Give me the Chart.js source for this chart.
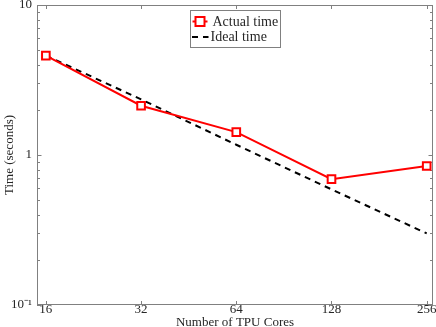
<!DOCTYPE html>
<html>
<head>
<meta charset="utf-8">
<script src="https://cdn.jsdelivr.net/npm/chart.js@4/dist/chart.umd.min.js"></script>
<style>
  html, body { margin: 0; padding: 0; background: #fff; }
  #wrap { width: 436px; height: 327px; }
</style>
</head>
<body>
<div id="wrap"><canvas id="c" width="436" height="327"></canvas></div>
<script>
// ---- data ----
const cores = [16, 32, 64, 128, 256];
const actualTime = [4.6, 2.13, 1.42, 0.69, 0.845];
const idealTime = [4.6, 2.35, 1.17, 0.59, 0.30];
const xTickValues = [16, 32, 64, 128, 256];
const yTickValues = [0.1, 1, 10];
const yTickLabels = ['10\u207B\u00B9', '1', '10'];
const seriesNames = ['Actual time', 'Ideal time'];
const xTitle = 'Number of TPU Cores';
const yTitle = 'Time (seconds)';

const FONT = 'Liberation Serif';
const TEXT = '#262626';
const AXIS = '#808080';

const zeroPad = () => ({ left: 0, top: 0, right: 0, bottom: 0 });

const boxPlugin = {
  id: 'boxTicks',
  beforeDatasetsDraw(chart) {
    const { ctx, chartArea: a, scales } = chart;
    const xs = scales.x, ys = scales.y;
    ctx.save();
    ctx.strokeStyle = AXIS;
    ctx.lineWidth = 1;
    ctx.strokeRect(Math.round(a.left) + 0.5, Math.round(a.top) + 0.5,
      Math.round(a.right - a.left) - 1, Math.round(a.bottom - a.top) - 1);
    ctx.beginPath();
    xTickValues.forEach(v => {
      const px = Math.round(xs.getPixelForValue(v)) + 0.5;
      ctx.moveTo(px, a.bottom); ctx.lineTo(px, a.bottom - 4);
      ctx.moveTo(px, a.top); ctx.lineTo(px, a.top + 4);
    });
    const decades = [0.1, 1];
    const yVals = [];
    decades.forEach(d => { for (let k = 1; k <= 9; k++) yVals.push(d * k); });
    yVals.push(10);
    yVals.forEach(v => {
      const major = yTickValues.some(t => Math.abs(t - v) < 1e-9);
      const len = major ? 4.5 : 3;
      const py = Math.round(ys.getPixelForValue(v)) + 0.5;
      ctx.moveTo(a.left, py); ctx.lineTo(a.left + len, py);
      ctx.moveTo(a.right, py); ctx.lineTo(a.right - len, py);
    });
    ctx.stroke();
    ctx.restore();
  },
  afterDraw(chart) {
    const { ctx, chartArea: a } = chart;
    ctx.save();
    const w = 90, h = 37;
    const lx = Math.round((a.left + a.right) / 2 - w / 2) + 0.5;
    const ly = Math.round(a.top + 5) + 0.5;
    ctx.fillStyle = '#fff';
    ctx.fillRect(lx, ly, w, h);
    ctx.strokeStyle = AXIS;
    ctx.lineWidth = 1;
    ctx.strokeRect(lx, ly, w, h);
    const r1 = ly + 11, r2 = ly + 26.5;
    ctx.strokeStyle = '#ff0000';
    ctx.lineWidth = 2;
    ctx.beginPath(); ctx.moveTo(lx + 2, r1); ctx.lineTo(lx + 17, r1); ctx.stroke();
    ctx.fillStyle = '#fff';
    ctx.fillRect(lx + 5, r1 - 4.5, 9, 9);
    ctx.strokeRect(lx + 5, r1 - 4.5, 9, 9);
    ctx.strokeStyle = '#000';
    ctx.setLineDash([6, 5]);
    ctx.beginPath(); ctx.moveTo(lx + 1.5, r2); ctx.lineTo(lx + 18, r2); ctx.stroke();
    ctx.setLineDash([]);
    ctx.fillStyle = TEXT;
    ctx.font = '14px "' + FONT + '"';
    ctx.textBaseline = 'middle';
    ctx.textAlign = 'left';
    ctx.fillText(seriesNames[0], lx + 22, r1 + 0.5);
    ctx.fillText(seriesNames[1], lx + 20, r2 + 0.5);
    ctx.restore();
  }
};

new Chart(document.getElementById('c'), {
  type: 'line',
  data: {
    datasets: [
      {
        label: seriesNames[0],
        data: cores.map((c, i) => ({ x: c, y: actualTime[i] })),
        borderColor: '#ff0000',
        borderWidth: 2,
        pointStyle: 'rect',
        pointRadius: 5.4,
        pointBorderWidth: 2,
        pointBackgroundColor: '#ffffff',
        pointBorderColor: '#ff0000',
        tension: 0
      },
      {
        label: seriesNames[1],
        data: cores.map((c, i) => ({ x: c, y: idealTime[i] })),
        borderColor: '#000000',
        borderWidth: 2,
        borderDash: [6, 5],
        pointRadius: 0,
        tension: 0
      }
    ]
  },
  options: {
    responsive: false,
    animation: false,
    layout: { autoPadding: false, padding: { top: 5, right: 3, left: 0, bottom: 0 } },
    plugins: { legend: { display: false }, tooltip: { enabled: false } },
    scales: {
      x: {
        type: 'logarithmic',
        min: 15,
        max: 268,
        grid: { display: false, drawTicks: false },
        border: { display: false },
        afterBuildTicks: s => { s.ticks = xTickValues.map(v => ({ value: v })); },
        afterFit: s => {
          s.height = 22; s.paddingLeft = 0; s.paddingRight = 0;
          s.getPadding = zeroPad;
        },
        ticks: {
          autoSkip: false,
          maxRotation: 0,
          padding: -3,
          color: TEXT,
          font: { family: FONT, size: 13 },
          callback: v => String(v)
        },
        title: {
          display: true,
          text: xTitle,
          color: TEXT,
          font: { family: FONT, size: 13 },
          padding: { top: 0, bottom: -3 }
        }
      },
      y: {
        type: 'logarithmic',
        min: 0.1,
        max: 10,
        grid: { display: false, drawTicks: false },
        border: { display: false },
        afterBuildTicks: s => { s.ticks = yTickValues.map(v => ({ value: v })); },
        afterFit: s => {
          s.width = 37; s.paddingTop = 0; s.paddingBottom = 0;
          s.getPadding = zeroPad;
        },
        ticks: {
          autoSkip: false,
          padding: 5,
          color: TEXT,
          font: { family: FONT, size: 13 },
          callback: v => {
            const i = yTickValues.findIndex(t => Math.abs(t - v) < 1e-9);
            return i >= 0 ? yTickLabels[i] : '';
          }
        },
        title: {
          display: true,
          text: yTitle,
          color: TEXT,
          font: { family: FONT, size: 13 },
          padding: { top: 2, bottom: 0 }
        }
      }
    }
  },
  plugins: [boxPlugin]
});
</script>
</body>
</html>
